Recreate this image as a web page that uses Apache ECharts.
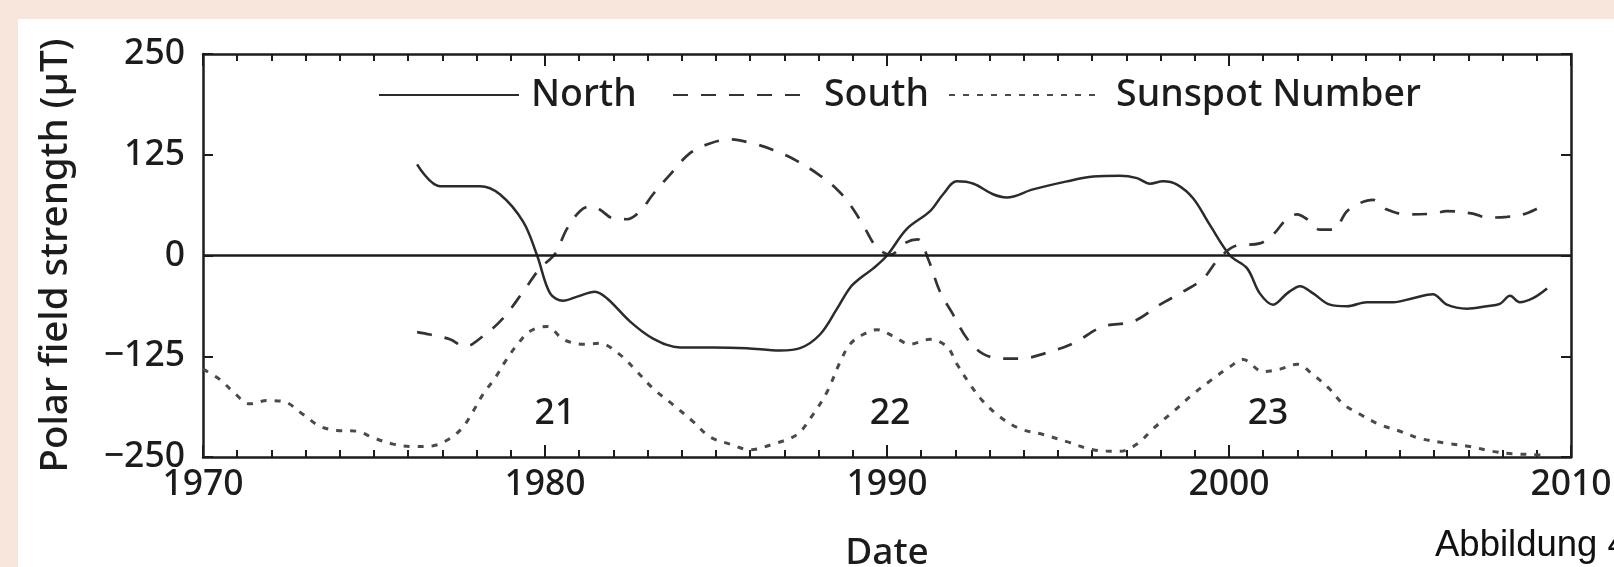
<!DOCTYPE html>
<html>
<head>
<meta charset="utf-8">
<script src="https://cdn.jsdelivr.net/npm/echarts@6/dist/echarts.min.js"></script>
<style>
html,body{margin:0;padding:0;background:#f8e6dc;}
#chart{width:1614px;height:567px;}
</style>
</head>
<body>
<div id="chart"></div>
<script>
// ---- data ----
const northYears = [1976.26,1976.93,1978.1,1978.68,1979.36,1979.77,1980.15,1980.53,1980.94,1981.46,1981.81,1982.49,1983.16,1983.95,1984.9,1985.9,1986.87,1987.46,1988.04,1988.54,1988.92,1989.25,1989.6,1990.0,1990.58,1991.26,1991.64,1992.04,1992.53,1993.1,1993.5,1994.27,1995.26,1996.03,1996.81,1997.31,1997.69,1998.07,1998.48,1998.95,1999.44,2000.03,2000.53,2000.9,2001.29,2001.7,2002.08,2002.46,2002.95,2003.45,2004.03,2004.8,2005.38,2005.96,2006.37,2006.96,2007.54,2007.92,2008.22,2008.5,2008.89,2009.3];
const northValues = [113,86,86,76,42,0,-47,-56,-51,-45,-53,-82,-103,-114,-114,-115,-118,-115,-98,-66,-40,-27,-16,0,33,55,76,92,89,76,72,82,92,98,99,96,89,92,88,71,38,0,-16,-47,-61,-47,-38,-47,-61,-63,-58,-58,-53,-48,-61,-66,-63,-60,-50,-58,-53,-41];

const southYears = [1976.26,1976.64,1977.22,1977.66,1978.19,1978.77,1979.36,1979.85,1980.29,1980.64,1981.02,1981.32,1981.6,1981.99,1982.4,1982.78,1983.16,1983.65,1984.24,1984.82,1985.41,1986.08,1986.67,1987.25,1987.95,1988.54,1988.92,1989.3,1989.7,1990.1,1990.55,1990.9,1991.2,1991.55,1991.93,1992.34,1992.81,1993.4,1993.9,1994.57,1995.44,1996.32,1997.19,1997.98,1998.65,1999.24,1999.68,2000.2,2000.9,2001.29,2001.7,2001.99,2002.28,2002.66,2003.04,2003.45,2003.83,2004.21,2004.62,2005.2,2005.96,2006.37,2007.13,2007.54,2008.13,2008.6,2009.0,2009.3];
const southValues = [-95,-98,-104,-113,-100,-78,-45,-16,2,33,55,61,57,46,45,55,76,100,127,139,144,139,131,120,102,82,63,38,10,1,16,20,-4,-45,-73,-103,-122,-128,-128,-122,-109,-88,-82,-61,-45,-29,-5,12,15,26,46,51,45,32,32,55,65,69,57,51,52,55,52,47,48,51,58,65];

const sunspotYears = [1970,1970.5,1970.88,1971.37,1971.87,1972.34,1972.92,1973.42,1973.92,1974.5,1974.97,1975.56,1976.14,1976.73,1977.22,1977.6,1977.89,1978.19,1978.54,1978.83,1979.18,1979.56,1980.06,1980.53,1981.11,1981.6,1982.19,1982.69,1983.16,1983.74,1984.33,1984.82,1985.41,1985.99,1986.67,1987.37,1987.84,1988.25,1988.63,1988.92,1989.3,1989.71,1990.18,1990.67,1991.26,1991.75,1992.05,1992.43,1992.81,1993.3,1993.89,1994.56,1995.26,1996.02,1996.81,1997.31,1997.78,1998.36,1998.95,1999.53,2000.03,2000.41,2000.99,2001.49,2001.99,2002.46,2002.95,2003.33,2003.83,2004.42,2005.0,2005.58,2006.37,2007.05,2007.72,2008.3,2008.89,2009.3];
const sunspotValues = [-141,-154,-169,-184,-180,-181,-197,-212,-217,-218,-226,-234,-237,-236,-227,-213,-194,-172,-152,-132,-111,-94,-88,-104,-110,-109,-123,-144,-165,-185,-206,-225,-234,-241,-234,-222,-197,-169,-132,-110,-98,-92,-100,-110,-104,-113,-135,-160,-181,-200,-215,-222,-231,-241,-243,-234,-215,-194,-172,-153,-138,-129,-144,-141,-135,-148,-166,-184,-197,-210,-218,-227,-233,-237,-243,-246,-247,-248];

const cycleLabels = ['21','22','23'];
const cycleYears = [1980.29, 1990.09, 2001.14];
const cycleValues = [-197, -197, -197];

const xTickValues = [1970,1980,1990,2000,2010];
const xTickLabels = ['1970','1980','1990','2000','2010'];
const yTickValues = [-250,-125,0,125,250];
const yTickLabels = ['\u2212250','\u2212125','0','125','250'];

const seriesNames = ['North','South','Sunspot Number'];

// ---- chart ----
const zip = (xs, ys) => xs.map((x, i) => [x, ys[i]]);
const FONT = 'Noto Sans';
const INK = '#1c1c1c';

const chart = echarts.init(document.getElementById('chart'), null, {renderer: 'canvas'});

const xLabelFmt = v => { const i = xTickValues.indexOf(v); return i >= 0 ? xTickLabels[i] : ''; };
const yLabelFmt = v => { const i = yTickValues.indexOf(v); return i >= 0 ? yTickLabels[i] : ''; };

const axisCommonX = {
  type: 'value', min: 1970, max: 2010, interval: 10,
  axisLine: {show: true, onZero: false, lineStyle: {color: INK, width: 2.5}},
  axisTick: {show: true, inside: true, length: 12, lineStyle: {color: INK, width: 2}},
  minorTick: {show: true, splitNumber: 10, length: 7, lineStyle: {color: INK, width: 2}},
  splitLine: {show: false}, minorSplitLine: {show: false}
};
const axisCommonY = {
  type: 'value', min: -250, max: 250, interval: 125,
  axisLine: {show: true, onZero: false, lineStyle: {color: INK, width: 2.5}},
  axisTick: {show: true, inside: true, length: 10, lineStyle: {color: INK, width: 2}},
  splitLine: {show: false}
};

function legendFor(name, left, width, gap) {
  return {
    data: [name], left: left, top: 76, padding: 0,
    itemWidth: width, itemHeight: 30,
    itemStyle: {opacity: 0, color: 'transparent', borderWidth: 0},
    textStyle: {fontFamily: FONT, fontSize: 37.5, fontWeight: 500, color: INK, padding: [0, 0, 0, gap]},
    selectedMode: false
  };
}

chart.setOption({
  backgroundColor: '#f8e6dc',
  animation: false,
  graphic: [
    {type: 'rect', left: 18, top: 19, z: -10, shape: {width: 1600, height: 550}, style: {fill: '#ffffff'}},
    {type: 'text', left: 1435, top: 527, z: 10, style: {text: 'Abbildung 4', fontFamily: 'Liberation Sans', fontSize: 36.5, fill: '#111'}}
  ],
  grid: {left: 203, right: 43, top: 54, bottom: 110, outerBoundsMode: 'none', containLabel: false},
  legend: [legendFor('North', 378, 140, 7), legendFor('South', 672, 140, 6), legendFor('Sunspot Number', 948, 150, 12)],
  xAxis: [
    Object.assign({}, axisCommonX, {
      position: 'bottom',
      name: 'Date', nameLocation: 'middle', nameGap: 78,
      nameTextStyle: {fontFamily: FONT, fontSize: 37, fontWeight: 500, color: INK},
      axisLabel: {show: true, formatter: xLabelFmt, fontFamily: FONT, fontSize: 35.5, fontWeight: 500, color: INK, margin: 10}
    }),
    Object.assign({}, axisCommonX, {position: 'top', axisLabel: {show: false}})
  ],
  yAxis: [
    Object.assign({}, axisCommonY, {
      position: 'left',
      name: 'Polar field strength (\u00b5T)', nameLocation: 'middle', nameGap: 127,
      nameTextStyle: {fontFamily: FONT, fontSize: 38.5, fontWeight: 500, color: INK},
      axisLabel: {show: true, formatter: yLabelFmt, fontFamily: FONT, fontSize: 35.5, fontWeight: 500, color: INK, margin: 18}
    }),
    Object.assign({}, axisCommonY, {position: 'right', axisLabel: {show: false}})
  ],
  series: [
    {
      name: seriesNames[0], type: 'line', data: zip(northYears, northValues),
      smooth: 0.35, symbol: 'none', lineStyle: {color: '#2b2b2b', width: 2.5, type: 'solid'},
      itemStyle: {color: '#2b2b2b'},
      markLine: {silent: true, symbol: 'none', label: {show: false},
        lineStyle: {color: INK, width: 2.5, type: 'solid'}, data: [{yAxis: 0}]}
    },
    {
      name: seriesNames[1], type: 'line', data: zip(southYears, southValues),
      smooth: 0.35, symbol: 'none', lineStyle: {color: '#333', width: 2.7, type: [15, 13]},
      itemStyle: {color: '#333'}
    },
    {
      name: seriesNames[2], type: 'line', data: zip(sunspotYears, sunspotValues),
      smooth: 0.35, symbol: 'none', lineStyle: {color: '#4a4a4a', width: 3, type: [6, 8]},
      itemStyle: {color: '#4a4a4a'}
    },
    {
      name: 'cycles', type: 'scatter', data: zip(cycleYears, cycleValues),
      symbolSize: 1, itemStyle: {color: 'transparent', opacity: 1}, silent: true,
      label: {show: true, position: 'inside', formatter: p => cycleLabels[p.dataIndex],
        fontFamily: FONT, fontSize: 35.5, fontWeight: 500, color: INK, opacity: 1}
    }
  ]
});
</script>
</body>
</html>
